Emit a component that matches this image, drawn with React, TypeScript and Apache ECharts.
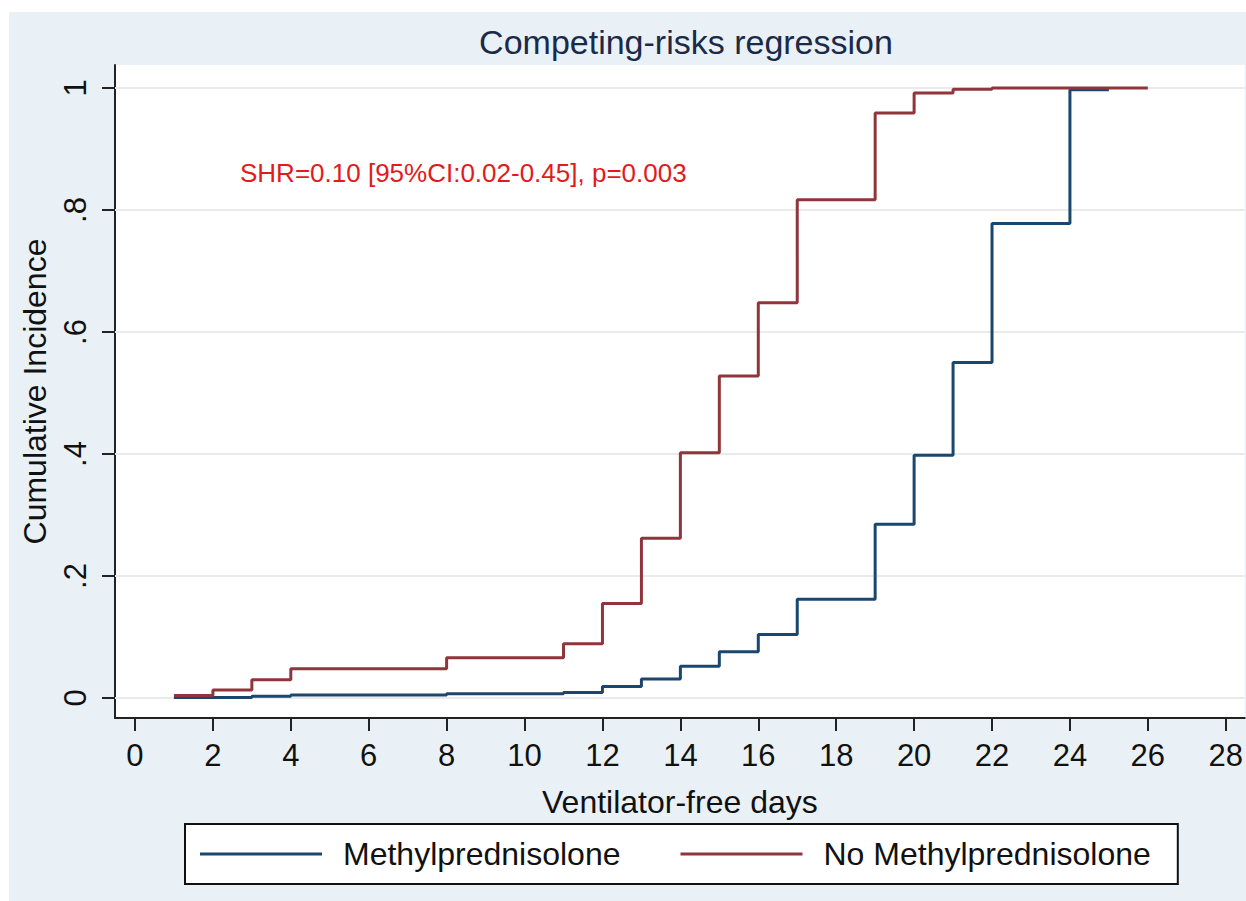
import React, { useEffect, useRef } from "react";
import * as echarts from "echarts";

const seriesNames = ["Methylprednisolone", "No Methylprednisolone"];

// Methylprednisolone (step changes at these days)
const methylDays = [1, 3, 4, 8, 11, 12, 13, 14, 15, 16, 17, 19, 20, 21, 22, 24, 25];
const methylCI = [0.001, 0.003, 0.005, 0.007, 0.009, 0.019, 0.031, 0.052, 0.076, 0.104, 0.162, 0.285, 0.398, 0.55, 0.778, 0.997, 0.997];

// No Methylprednisolone
const noMethylDays = [1, 2, 3, 4, 8, 11, 12, 13, 14, 15, 16, 17, 19, 20, 21, 22, 26];
const noMethylCI = [0.004, 0.013, 0.03, 0.048, 0.066, 0.089, 0.155, 0.262, 0.402, 0.528, 0.648, 0.817, 0.959, 0.992, 0.998, 1.0, 1.0];

const xTicks = [0, 2, 4, 6, 8, 10, 12, 14, 16, 18, 20, 22, 24, 26, 28];
const yTicks = [0, 0.2, 0.4, 0.6, 0.8, 1];
const yTickLabels: Record<string, string> = { "0": "0", "0.2": ".2", "0.4": ".4", "0.6": ".6", "0.8": ".8", "1": "1" };

const FONT = "'Liberation Sans', Arial, sans-serif";
const NAVY = "#1A476F";
const MAROON = "#90353B";

export default function App() {
  const ref = useRef<HTMLDivElement>(null);
  useEffect(() => {
    document.body.style.margin = "0";
    const chart = echarts.init(ref.current!, null, { renderer: "svg" });
    const option: any = {
      animation: false,
      backgroundColor: "#ffffff",
      title: {
        text: "Competing-risks regression",
        left: 681,
        top: 20,
        textAlign: "center",
        textStyle: { fontFamily: FONT, fontSize: 34, fontWeight: "normal", color: "#1A2A48" },
      },
      graphic: [
        { type: "rect", z: -10, silent: true, shape: { x: 9, y: 12, width: 1237, height: 889 }, style: { fill: "#E9F1F7" } },
        {
          type: "text",
          z: 10,
          left: 240,
          top: 160,
          style: { text: "SHR=0.10 [95%CI:0.02-0.45], p=0.003", fill: "#E31A1C", font: `26px ${FONT}` },
        },
      ],
      grid: {
        left: 115,
        top: 65,
        right: 0,
        bottom: 183,
        show: true,
        backgroundColor: "#ffffff",
        borderWidth: 0,
        containLabel: false,
      },
      legend: {
        data: seriesNames,
        left: 185,
        top: 824,
        orient: "horizontal",
        icon: "rect",
        itemWidth: 122,
        itemHeight: 3,
        itemGap: 60,
        padding: [14, 27, 14, 15],
        backgroundColor: "#ffffff",
        borderColor: "#111",
        borderWidth: 2,
        borderRadius: 0,
        textStyle: { fontFamily: FONT, fontSize: 32, color: "#111", padding: [0, 0, 0, 16] },
      },
      xAxis: {
        type: "value",
        min: -0.513,
        max: 28.487,
        name: "Ventilator-free days",
        nameLocation: "middle",
        nameGap: 68,
        nameTextStyle: { fontFamily: FONT, fontSize: 32, color: "#111" },
        axisLine: { show: true, onZero: false, lineStyle: { color: "#222", width: 2 } },
        axisTick: { show: true, length: 13, customValues: xTicks, lineStyle: { color: "#222", width: 2 } },
        axisLabel: { customValues: xTicks, margin: 22, fontFamily: FONT, fontSize: 31, color: "#111", showMinLabel: true, showMaxLabel: true },
        splitLine: { show: false },
      },
      yAxis: {
        type: "value",
        min: -0.0328,
        max: 1.0377,
        name: "Cumulative Incidence",
        nameLocation: "middle",
        nameGap: 64,
        nameTextStyle: { fontFamily: FONT, fontSize: 32, color: "#111" },
        axisLine: { show: true, onZero: false, lineStyle: { color: "#222", width: 2 } },
        axisTick: { show: true, length: 13, customValues: yTicks, lineStyle: { color: "#222", width: 2 } },
        axisLabel: {
          customValues: yTicks,
          rotate: 90,
          margin: 24,
          fontFamily: FONT,
          fontSize: 31,
          color: "#111",
          formatter: (v: number) => yTickLabels[String(Math.round(v * 10) / 10)] ?? String(v),
        },
        splitLine: { show: false },
      },
      series: [
        {
          name: "_grid",
          type: "line",
          data: [],
          z: 1,
          silent: true,
          markLine: {
            silent: true,
            z: 1,
            symbol: ["none", "none"],
            label: { show: false },
            lineStyle: { color: "#E8EAEB", width: 2, type: "solid" },
            data: yTicks.map((v) => ({ yAxis: v })),
          },
        },
        {
          name: seriesNames[0],
          type: "line",
          step: "end",
          symbol: "none",
          z: 6,
          color: NAVY,
          lineStyle: { color: NAVY, width: 3 },
          data: methylDays.map((d, i) => [d, methylCI[i]]),
        },
        {
          name: seriesNames[1],
          type: "line",
          step: "end",
          symbol: "none",
          z: 7,
          color: MAROON,
          lineStyle: { color: MAROON, width: 3 },
          data: noMethylDays.map((d, i) => [d, noMethylCI[i]]),
        },
      ],
    };
    chart.setOption(option);
    return () => chart.dispose();
  }, []);
  return <div ref={ref} style={{ width: 1246, height: 901 }} />;
}
